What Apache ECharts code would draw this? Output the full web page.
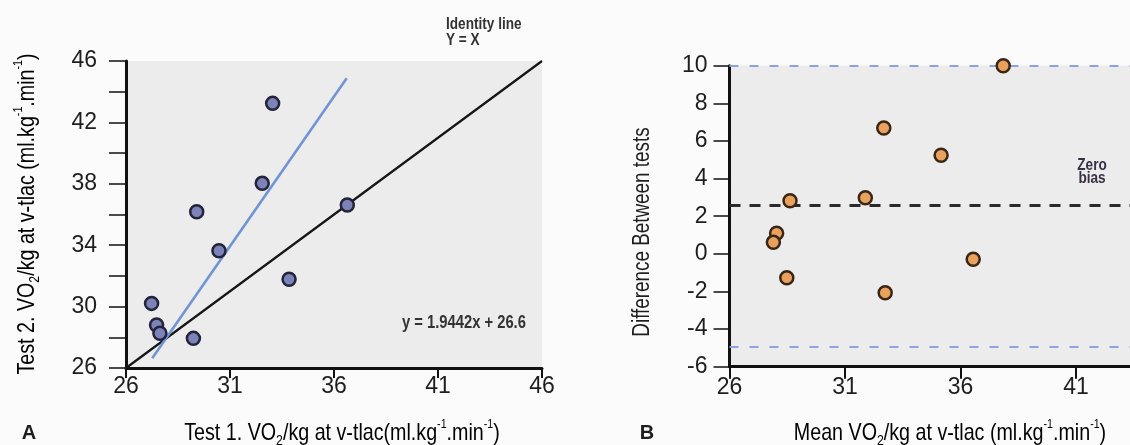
<!DOCTYPE html>
<html><head><meta charset="utf-8">
<script src="https://cdn.jsdelivr.net/npm/echarts@6/dist/echarts.min.js"></script>
<style>html,body{margin:0;padding:0;background:#fbfbfb}#c{width:1130px;height:445px}</style>
</head><body><div id="c"></div>
<script>
// Panel A: test 1 vs test 2
const test1 = [33.05, 32.55, 29.4, 36.64, 30.47, 33.84, 27.23, 27.47, 27.63, 29.24];
const test2 = [43.24, 38.03, 36.18, 36.62, 33.64, 31.78, 30.21, 28.8, 28.26, 27.93];
const identityLine = [[26, 26], [46, 46]];
const regressionLine = [[27.26, 26.63], [36.61, 44.87]];
const leftXTicks = [26, 31, 36, 41, 46];
const leftYLabels = [26, 30, 34, 38, 42, 46];
const leftYTicks = [26, 28, 30, 32, 34, 36, 38, 40, 42, 44, 46];
// Panel B: Bland-Altman
const meanVals = [37.85, 32.68, 35.16, 31.88, 28.62, 28.04, 27.9, 28.48, 32.74, 36.55];
const diffVals = [10.0, 6.69, 5.24, 2.98, 2.82, 1.09, 0.61, -1.27, -2.07, -0.29];
const biasLine = 2.56;
const upperLimit = 10.0;
const lowerLimit = -4.94;
const rightXTicks = [26, 31, 36, 41, 46];
const rightYTicks = [-6, -4, -2, 0, 2, 4, 6, 8, 10];

const FONT = '"Liberation Sans", Arial, sans-serif';
const TXT = '#1e1e1e';
const NX = 0.82; // horizontal condensing for the narrow typeface look

function zip(a, b) { return a.map((v, i) => [v, b[i]]); }

function richTitle(size) {
  return {
    n: { fontFamily: FONT, fontSize: size, color: TXT, lineHeight: size + 6 },
    sub: { fontFamily: FONT, fontSize: Math.round(size * 0.62), color: TXT, verticalAlign: 'bottom' },
    sup: { fontFamily: FONT, fontSize: Math.round(size * 0.55), color: TXT, verticalAlign: 'top' }
  };
}

const axisLine = { show: true, onZero: false, lineStyle: { color: '#111', width: 3 } };
const labelStyle = { fontFamily: FONT, fontSize: 23, color: TXT };

const chart = echarts.init(document.getElementById('c'), null, { renderer: 'canvas' });
chart.setOption({
  backgroundColor: '#fbfbfb',
  animation: false,
  grid: [
    { left: 126, top: 61, width: 416, height: 307, show: true, backgroundColor: '#ececec', borderWidth: 0, outerBoundsMode: 'none', containLabel: false },
    { left: 729.5, top: 65.7, width: 462, height: 301, show: true, backgroundColor: '#ececec', borderWidth: 0, outerBoundsMode: 'none', containLabel: false }
  ],
  xAxis: [
    { gridIndex: 0, type: 'value', min: 26, max: 46,
      axisLine: axisLine, splitLine: { show: false },
      axisTick: { show: true, length: 10, customValues: leftXTicks, lineStyle: { color: '#111', width: 2 } },
      axisLabel: Object.assign({ margin: 7, customValues: leftXTicks }, labelStyle) },
    { gridIndex: 1, type: 'value', min: 26, max: 46,
      axisLine: axisLine, splitLine: { show: false },
      axisTick: { show: true, length: 12, customValues: rightXTicks, lineStyle: { color: '#111', width: 2 } },
      axisLabel: Object.assign({ margin: 9, customValues: rightXTicks }, labelStyle) }
  ],
  yAxis: [
    { gridIndex: 0, type: 'value', min: 26, max: 46,
      axisLine: axisLine, splitLine: { show: false },
      axisTick: { show: true, length: 17, customValues: leftYTicks, lineStyle: { color: '#111', width: 1.5 } },
      axisLabel: Object.assign({ margin: 29, customValues: leftYLabels }, labelStyle) },
    { gridIndex: 1, type: 'value', min: -6, max: 10,
      axisLine: axisLine, splitLine: { show: false },
      axisTick: { show: true, length: 16, customValues: rightYTicks, lineStyle: { color: '#111', width: 1.5 } },
      axisLabel: Object.assign({ margin: 22, customValues: rightYTicks }, labelStyle) }
  ],
  series: [
    { type: 'line', xAxisIndex: 0, yAxisIndex: 0, data: identityLine, symbol: 'none',
      lineStyle: { color: '#161616', width: 2.2 }, z: 2 },
    { type: 'line', xAxisIndex: 0, yAxisIndex: 0, data: regressionLine, symbol: 'none',
      lineStyle: { color: '#7194d6', width: 2.6 }, z: 3 },
    { type: 'scatter', xAxisIndex: 0, yAxisIndex: 0, data: zip(test1, test2), symbolSize: 13,
      itemStyle: { color: '#7c83b8', borderColor: '#23233a', borderWidth: 2.5, opacity: 1 }, z: 5 },
    { type: 'scatter', xAxisIndex: 1, yAxisIndex: 1, data: zip(meanVals, diffVals), symbolSize: 13,
      itemStyle: { color: '#e9a15e', borderColor: '#3a2614', borderWidth: 2.5, opacity: 1 }, z: 5,
      markLine: {
        silent: true, symbol: 'none', label: { show: false }, animation: false,
        data: [
          { yAxis: upperLimit, lineStyle: { color: '#8da2e0', width: 2, type: [9, 11] } },
          { yAxis: lowerLimit, lineStyle: { color: '#8da2e0', width: 2, type: [9, 11] } },
          { yAxis: biasLine, lineStyle: { color: '#2a2a2a', width: 3, type: [11, 9] } }
        ]
      } }
  ],
  graphic: [
    { type: 'text', x: 342, y: 433, scaleX: NX, style: { text: '{n|Test 1. VO}{sub|2}{n|/kg at v-tlac(ml.kg}{sup|-1}{n|.min}{sup|-1}{n|)}',
      rich: richTitle(24), align: 'center', verticalAlign: 'middle' } },
    { type: 'text', x: 950, y: 433, scaleX: NX, style: { text: '{n|Mean VO}{sub|2}{n|/kg at v-tlac (ml.kg}{sup|-1}{n|.min}{sup|-1}{n|)}',
      rich: richTitle(24), align: 'center', verticalAlign: 'middle' } },
    { type: 'text', x: 27, y: 214, rotation: Math.PI / 2, scaleX: NX, style: { text: '{n|Test 2. VO}{sub|2}{n|/kg at v-tlac (ml.kg}{sup|-1}{n|.min}{sup|-1}{n|)}',
      rich: richTitle(24), align: 'center', verticalAlign: 'middle' } },
    { type: 'text', x: 643, y: 232, rotation: Math.PI / 2, scaleX: NX, style: { text: 'Difference Between tests',
      fontFamily: FONT, fontSize: 23, fill: TXT, align: 'center', verticalAlign: 'middle' } },
    { type: 'text', x: 29, y: 433, style: { text: 'A', fontFamily: FONT, fontWeight: 'bold', fontSize: 20, fill: TXT, align: 'center', verticalAlign: 'middle' } },
    { type: 'text', x: 647, y: 433, style: { text: 'B', fontFamily: FONT, fontWeight: 'bold', fontSize: 20, fill: TXT, align: 'center', verticalAlign: 'middle' } },
    { type: 'text', x: 446, y: 25, scaleX: 0.85, style: { text: 'Identity line', fontFamily: FONT, fontWeight: 'bold', fontSize: 16, fill: '#333', align: 'left', verticalAlign: 'middle' } },
    { type: 'text', x: 446, y: 41, scaleX: 0.85, style: { text: 'Y = X', fontFamily: FONT, fontWeight: 'bold', fontSize: 16, fill: '#333', align: 'left', verticalAlign: 'middle' } },
    { type: 'text', x: 402, y: 323, scaleX: 0.82, style: { text: 'y = 1.9442x + 26.6', fontFamily: FONT, fontWeight: 'bold', fontSize: 18, fill: '#333', align: 'left', verticalAlign: 'middle' } },
    { type: 'text', x: 1092, y: 166, scaleX: 0.85, style: { text: 'Zero', fontFamily: FONT, fontWeight: 'bold', fontSize: 16, fill: '#3a2f45', align: 'center', verticalAlign: 'middle' } },
    { type: 'text', x: 1092, y: 179, scaleX: 0.85, style: { text: 'bias', fontFamily: FONT, fontWeight: 'bold', fontSize: 16, fill: '#3a2f45', align: 'center', verticalAlign: 'middle' } }
  ]
});
</script></body></html>
